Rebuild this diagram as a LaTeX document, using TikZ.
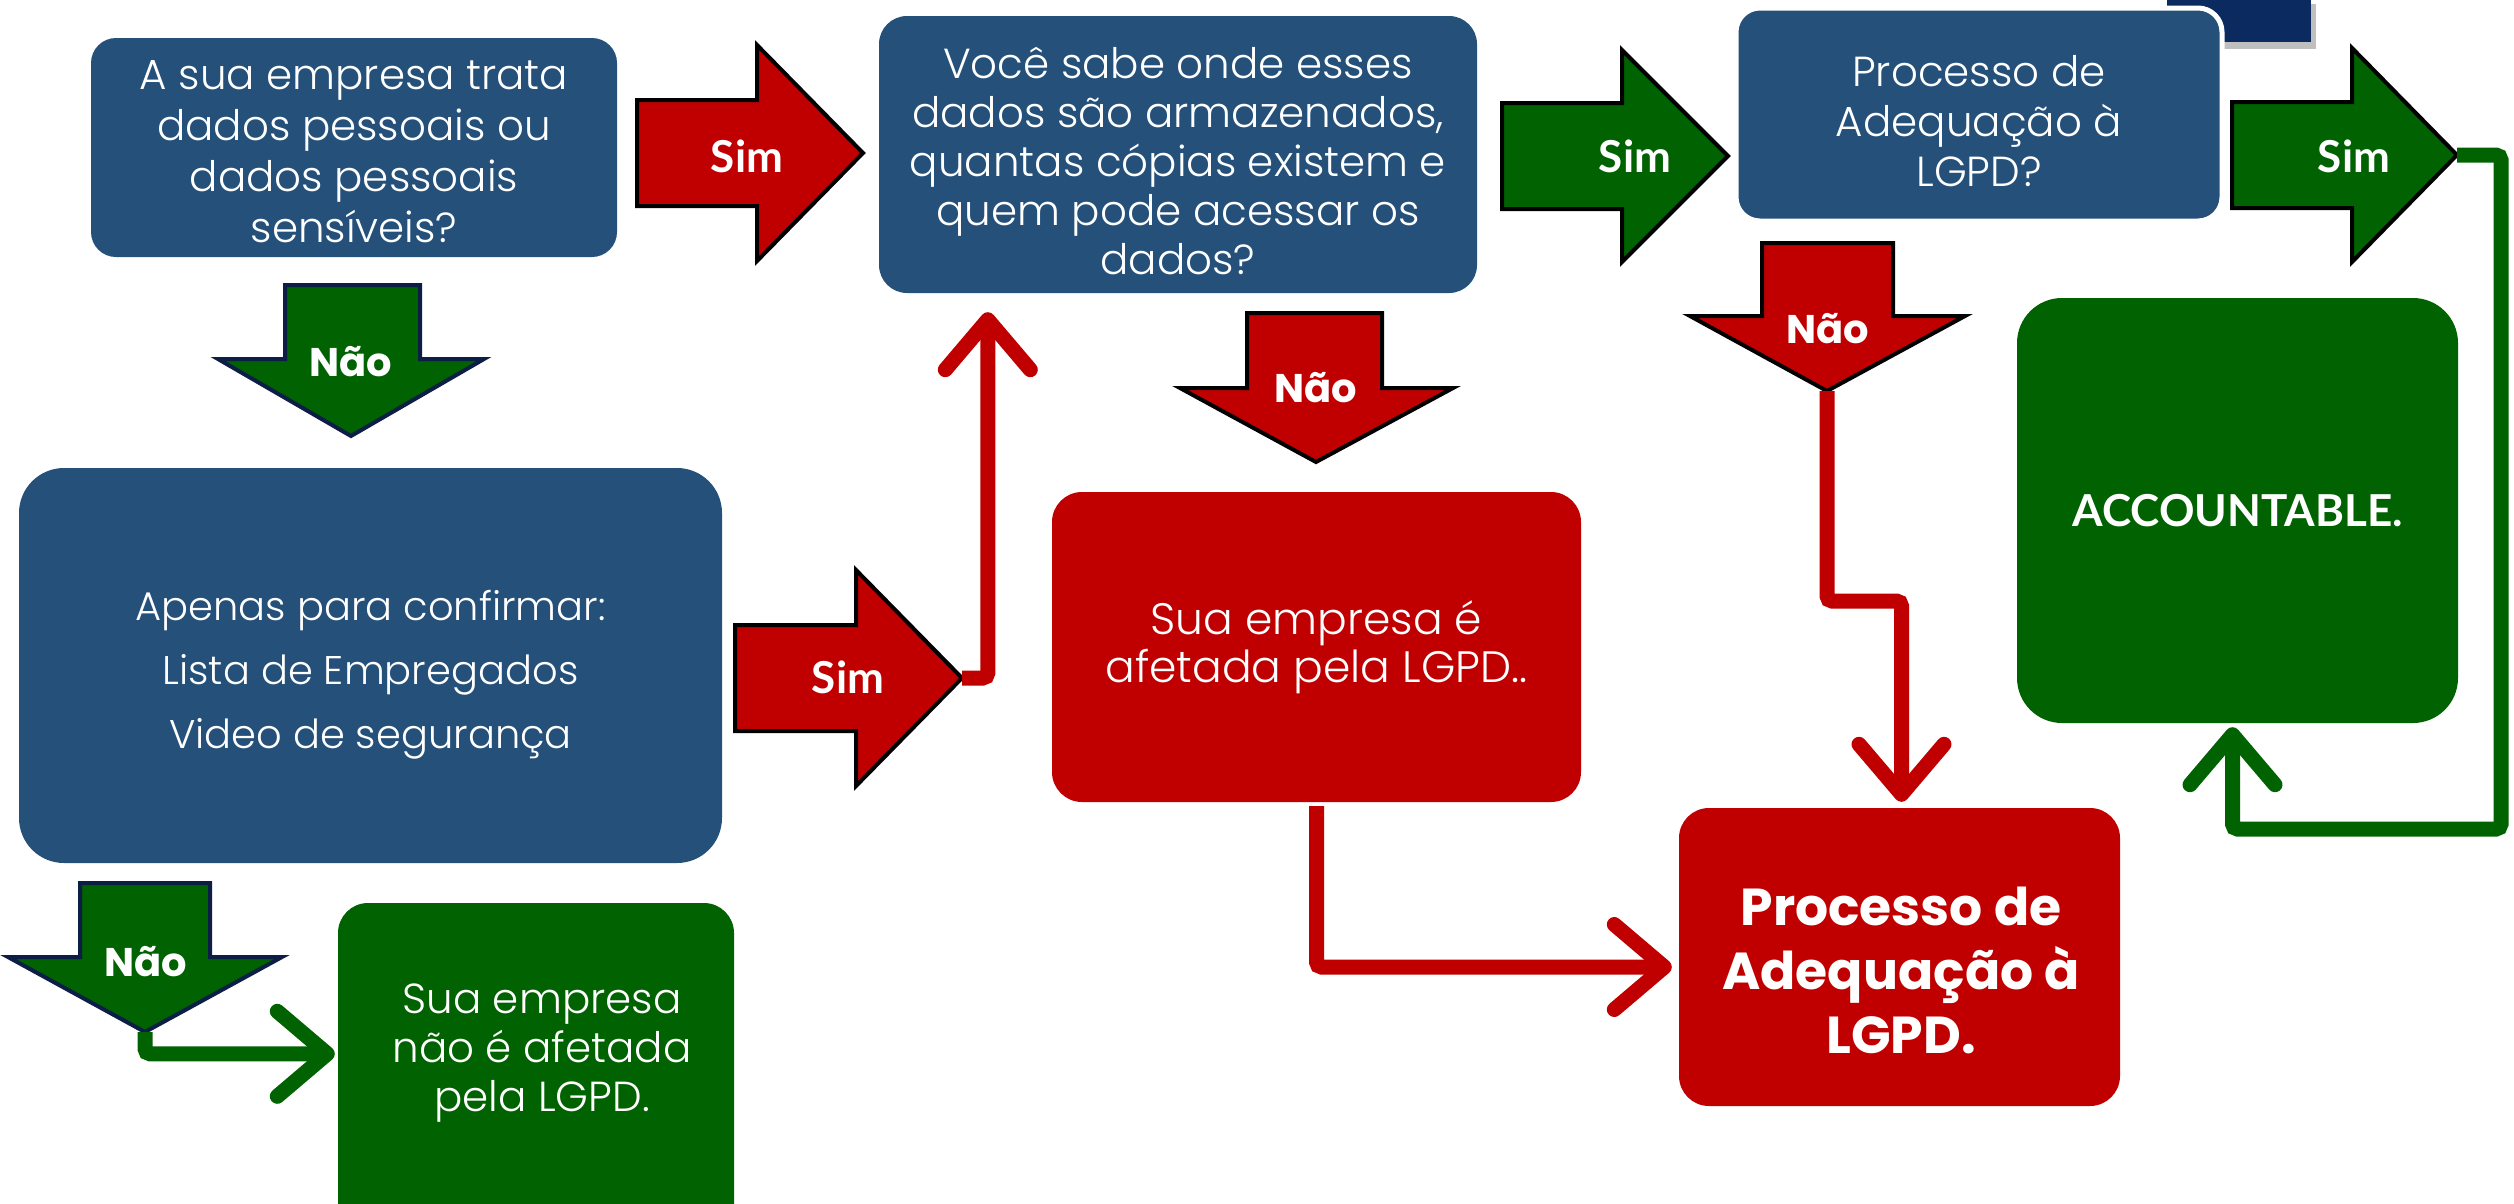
\documentclass[tikz,border=0pt]{standalone}
\usepackage{fontspec}
\setmainfont{Poppins}
\newfontfamily\light{Poppins Light}
\newfontfamily\gill{Lato}
\usetikzlibrary{arrows.meta}
\definecolor{cblue}{RGB}{36,80,122}
\definecolor{cred}{RGB}{192,0,0}
\definecolor{cgreen}{RGB}{0,98,0}
\definecolor{cnavy}{RGB}{10,42,96}
\definecolor{coutl}{RGB}{12,30,70}
\begin{document}
\begin{tikzpicture}[x=1pt,y=-1pt,
  card/.style={rounded corners=#1, align=center, text=white, inner sep=0pt,
    font=\light\fontsize{42}{51}\selectfont},
  fatred/.style={fill=cred, draw=black, line width=4pt, line join=miter},
  fatgreen/.style={fill=cgreen, draw=black, line width=4pt, line join=miter},
  fatgreenn/.style={fill=cgreen, draw=coutl, line width=4pt, line join=miter},
  simlbl/.style={text=white, font=\gill\bfseries\fontsize{44}{44}\selectfont, inner sep=0pt},
  naolbl/.style={text=white, font=\bfseries\fontsize{40}{40}\selectfont, inner sep=0pt},
  redline/.style={draw=cred, line width=15pt, rounded corners=5pt,
    -{Straight Barb[length=50pt,width=85pt,round]}},
  greenline/.style={draw=cgreen, line width=15pt, rounded corners=5pt,
    -{Straight Barb[length=50pt,width=85pt,round]}}
]
\useasboundingbox (0,0) rectangle (2514,1203);
\clip (0,0) rectangle (2514,1203);

% navy tab behind box 3
\fill[gray!50] (2171,4) rectangle (2316,49);
\fill[cnavy] (2167,0) rectangle (2311,42);

% boxes
\node[card=25, fill=cblue, minimum width=526pt, minimum height=219pt] (q1) at (354,147.5) {};
\node[text=white, align=center, inner sep=0pt, font=\light\fontsize{42}{51}\selectfont]
  (q1t) at (354,152) {A sua empresa trata\\dados pessoais ou\\dados pessoais\\sensíveis?};
\node[card=28, fill=cblue, minimum width=598pt, minimum height=277pt] (q2) at (1178,154.5) {};
\node[text=white, align=center, inner sep=0pt, font=\light\fontsize{42}{49}\selectfont]
  (q2t) at (1178,161) {Você sabe onde esses\\dados são armazenados,\\quantas cópias existem e\\quem pode acessar os\\dados?};
\node[card=24, fill=cblue, draw=white, line width=5pt, minimum width=486pt, minimum height=213pt] (q3) at (1979,114.5) {};
\node[text=white, align=center, inner sep=0pt, font=\light\fontsize{42}{50}\selectfont]
  (q3t) at (1979,121) {Processo de\\Adequação à\\LGPD?};
\node[card=45, fill=cblue, minimum width=703pt, minimum height=395pt] (conf) at (370.5,665.5) {};
\node[text=white, align=center, inner sep=0pt, font=\light\fontsize{40}{64}\selectfont]
  (conft) at (370.5,675) {Apenas para confirmar:\\Lista de Empregados\\Video de segurança};
\node[card=30, fill=cred, minimum width=529pt, minimum height=310pt] (rbox) at (1316.5,647) {};
\node[text=white, align=center, inner sep=0pt, font=\light\fontsize{44}{48}\selectfont]
  (rboxt) at (1316.5,647) {Sua empresa é\\afetada pela LGPD..};
\node[card=30, fill=cred, minimum width=441pt, minimum height=298pt] (pbox) at (1899.5,957) {};
\node[text=white, align=center, inner sep=0pt, font=\bfseries\fontsize{52}{64}\selectfont]
  (pboxt) at (1901,970) {Processo de\\Adequação à\\LGPD.};
\node[card=45, fill=cgreen, minimum width=441pt, minimum height=425pt,
  font=\gill\bfseries\fontsize{44}{44}\selectfont] (acc) at (2237.5,510.5)
  {ACCOUNTABLE.};
\node[card=30, fill=cgreen, minimum width=396pt, minimum height=337pt] (gbox) at (536,1071.5) {};
\node[text=white, align=center, inner sep=0pt, font=\light\fontsize{42}{49}\selectfont]
  (gtxt) at (542,1053) {Sua empresa\\não é afetada\\pela LGPD.};

% fat arrows
\draw[fatred] (637,100) -- (757,100) -- (757,45) -- (863,153) -- (757,261) -- (757,206) -- (637,206) -- cycle;
\coordinate (s1tip) at (863,153);
\node[simlbl] (s1) at (747,156) {Sim};

\draw[fatgreen] (1502,103) -- (1622,103) -- (1622,50) -- (1728,156) -- (1622,262) -- (1622,209) -- (1502,209) -- cycle;
\coordinate (s2tip) at (1728,156);
\node[simlbl] (s2) at (1635,156) {Sim};

\draw[fatgreen] (2232,102) -- (2352,102) -- (2352,48) -- (2457,155) -- (2352,262) -- (2352,208) -- (2232,208) -- cycle;
\coordinate (s3tip) at (2457,155);
\node[simlbl] (s3) at (2354,156) {Sim};

\draw[fatred] (735,625) -- (856,625) -- (856,570) -- (962,678) -- (856,786) -- (856,731) -- (735,731) -- cycle;
\coordinate (s4tip) at (962,678);
\node[simlbl] (s4) at (848,677) {Sim};

\draw[fatgreenn] (285,285) -- (420,285) -- (420,359) -- (484,359) -- (351,436) -- (218,359) -- (285,359) -- cycle;
\coordinate (n1tip) at (351,436);
\node[naolbl] (n1) at (351,362) {Não};

\draw[fatred] (1247,313) -- (1382,313) -- (1382,388) -- (1453,388) -- (1316,462) -- (1180,388) -- (1247,388) -- cycle;
\coordinate (n2tip) at (1316,462);
\node[naolbl] (n2) at (1316,388) {Não};

\draw[fatred] (1762,243) -- (1893,243) -- (1893,316) -- (1965,316) -- (1827,391) -- (1690,316) -- (1762,316) -- cycle;
\coordinate (n3tip) at (1827,391);
\node[naolbl] (n3) at (1828,329) {Não};

\draw[fatgreenn] (80,883) -- (210,883) -- (210,957) -- (282,957) -- (145,1032) -- (8,957) -- (80,957) -- cycle;
\coordinate (n4tip) at (145,1032);
\node[naolbl] (n4) at (146,962) {Não};

% connectors
\draw[redline] (s4tip) -| ([xshift=109pt,yshift=-19pt]q2.south west);
\draw[redline] ([yshift=-4pt]rbox.south) |- ([xshift=-7pt,yshift=-10pt]pbox.west);
\draw[redline] (n3tip) -- ++(0,210) -| ([xshift=2pt,yshift=6pt]pbox.north);
\draw[greenline] (s3tip) -- ++(44,0) -- ++(0,674) -| ([xshift=-5pt,yshift=-4pt]acc.south);
\draw[greenline] (n4tip) |- ([xshift=-3pt,yshift=-151pt]gbox.north west);
\end{tikzpicture}
\end{document}
